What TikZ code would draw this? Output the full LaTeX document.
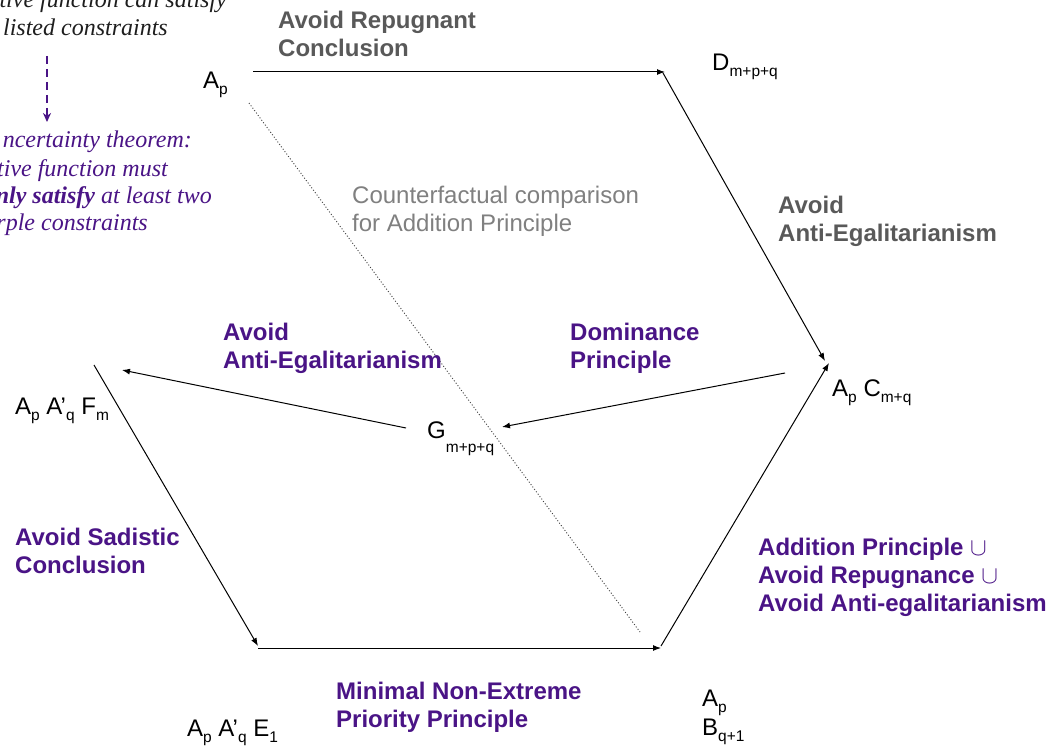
\documentclass[tikz,border=0pt]{standalone}
\usepackage{fontspec}
\setmainfont{Liberation Sans}
\newfontfamily\serifit{Liberation Serif}
\usetikzlibrary{arrows.meta}
\definecolor{pur}{RGB}{74,20,134}
\definecolor{gtxt}{RGB}{89,89,89}
\definecolor{ltxt}{RGB}{128,128,128}
\definecolor{ntxt}{RGB}{30,30,30}
\newcommand{\sbs}[1]{\raisebox{-6pt}{\fontsize{15.5}{15.5}\selectfont #1}}
\newcommand{\sbg}[1]{\raisebox{-14pt}{\fontsize{15.5}{15.5}\selectfont #1}}
\begin{document}
\begin{tikzpicture}[x=1pt,y=-1pt,
  lab/.style={inner sep=0pt, anchor=north west, align=left, font=\bfseries\fontsize{24}{28}\selectfont},
  plab/.style={lab, text=pur},
  glab/.style={lab, text=gtxt},
  state/.style={inner sep=0pt, anchor=base west, font=\fontsize{24}{28}\selectfont},
  conn/.style={line width=1pt, -{Latex[length=8pt,width=6pt]}},
  note/.style={inner sep=0pt, anchor=base east, font=\serifit\itshape\fontsize{24}{27}\selectfont}]

\useasboundingbox (0,0) rectangle (1050,749);
\clip (0,0) rectangle (1050,749);
\fill[white] (0,0) rectangle (1050,749);

% states
\node[state] (Ap) at (203,89) {A\sbs{p}};
\node[state] (D) at (712,71) {D\sbs{m+p+q}};
\node[state] (ApC) at (832,396) {A\sbs{p} C\sbs{m+q}};
\node[state] (G) at (427,438) {G\sbg{m+p+q}};
\node[state] (F) at (15,414) {A\sbs{p} A’\sbs{q} F\sbs{m}};
\node[state] (E) at (187,736) {A\sbs{p} A’\sbs{q} E\sbs{1}};
\node[state] (B1) at (702,706) {A\sbs{p}};
\node[state] (B2) at (702,735) {B\sbs{q+1}};

% corners
\coordinate (tl) at (253,72);
\coordinate (tr) at (665,72);
\coordinate (trs) at (663,73);
\coordinate (rtip1) at (825,361);
\coordinate (brs) at (661,646);
\coordinate (rtip2) at (829,363);
\coordinate (ls) at (94,365);
\coordinate (bl) at (258,646);
\coordinate (bls) at (258,648);
\coordinate (br) at (661,648);
\coordinate (gs) at (406,428);
\coordinate (ltip) at (122,370);
\coordinate (ds) at (785,373);
\coordinate (gtip) at (502,427);
\coordinate (d1) at (249,103);
\coordinate (d2) at (640,632);
\coordinate (da1) at (47,56);
\coordinate (da2) at (47,122);

\draw[conn] (tl) -- (tr);
\draw[conn] (trs) -- (rtip1);
\draw[conn] (brs) -- (rtip2);
\draw[conn] (ls) -- (bl);
\draw[conn] (bls) -- (br);
\draw[conn] (gs) -- (ltip);
\draw[conn] (ds) -- (gtip);
\draw[black!75, line width=0.9pt, dash pattern=on 1pt off 2pt] (d1) -- (d2);
\draw[pur, line width=2pt, dash pattern=on 8pt off 5pt, -{Stealth[length=9pt,width=8pt]}] (da1) -- (da2);

% labels
\node[glab] (rep) at (278,11) {Avoid Repugnant\\Conclusion};
\node[glab] (ae1) at (778,196) {Avoid\\Anti-Egalitarianism};
\node[inner sep=0pt, anchor=north west, align=left, text=ltxt, font=\fontsize{24}{28}\selectfont] (cf) at (352,186) {Counterfactual comparison\\for Addition Principle};
\node[plab] (ae2) at (223,323) {Avoid\\Anti-Egalitarianism};
\node[plab] (dom) at (570,323) {Dominance\\Principle};
\node[plab] (sad) at (15,528) {Avoid Sadistic\\Conclusion};
\node[plab] (add) at (758,538) {Addition Principle \textmd{$\cup$}\\Avoid Repugnance \textmd{$\cup$}\\Avoid Anti-egalitarianism};
\node[plab] (mne) at (336,682) {Minimal Non-Extreme\\Priority Principle};

% notes
\node[note, text=ntxt] (n1) at (227,8) {tive function can satisfy};
\node[note, text=ntxt] (n2) at (168,36) {listed constraints};
\node[note, text=pur] (u1) at (192,148) {ncertainty theorem:};
\node[note, text=pur] (u2) at (168,176) {tive function must};
\node[note, text=pur] (u3) at (212,204) {\textbf{nly satisfy} at least two};
\node[note, text=pur] (u4) at (148,230) {rple constraints};
\end{tikzpicture}
\end{document}
